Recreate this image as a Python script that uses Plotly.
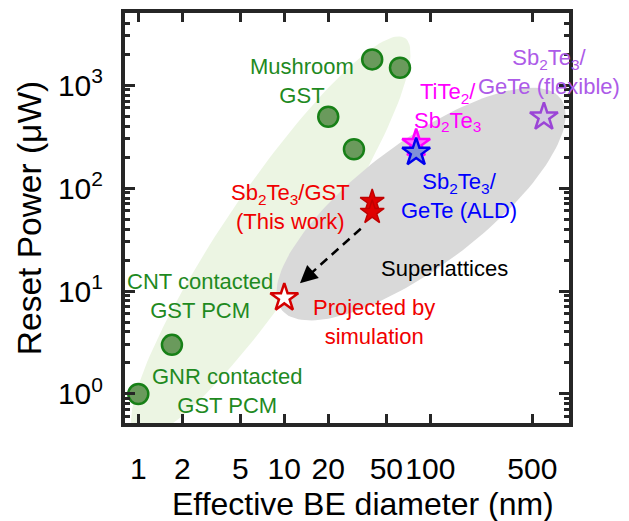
import numpy as np
import plotly.graph_objects as go

# ---------------- data ----------------
# GST cells (GNR contacted, CNT contacted, mushroom)
gst_bd = [1.0, 1.7, 20.0, 30.0, 40.0, 62.0]            # effective BE diameter (nm)
gst_power = [1.0, 3.0, 492.0, 238.0, 1776.0, 1472.0]    # reset power (uW)

# superlattice devices
this_work_bd = [40.0, 40.0]
this_work_power = [74.0, 58.0]

projected_bd = [10.0]
projected_power = [8.6]

tite2_bd = [80.0]
tite2_power = [271.0]

ald_bd = [80.0]
ald_power = [222.0]

flexible_bd = [600.0]
flexible_power = [490.0]

# scaling arrow: this work -> projected by simulation
arrow_from = (33.4, 40.2)
arrow_to = (12.8, 11.9)

x_tickvals = [1, 2, 5, 10, 20, 50, 100, 500]
x_ticktext = ["1", "2", "5", "10", "20", "50", "100", "500"]
y_tickvals = [1, 10, 100, 1000]
y_ticktext = ["10<sup>0</sup>", "10<sup>1</sup>", "10<sup>2</sup>", "10<sup>3</sup>"]
y_minor = [m * 10.0 ** e for e in range(-1, 4) for m in range(2, 10)]

# ---------------- layout constants ----------------
W, H = 629, 521
MARGIN = dict(l=125, r=60, t=13, b=98)
X_RANGE = [-0.091, 2.950]
Y_RANGE = [-0.282, 3.700]
PX_X = (W - MARGIN["l"] - MARGIN["r"]) / (X_RANGE[1] - X_RANGE[0])
PX_Y = (H - MARGIN["t"] - MARGIN["b"]) / (Y_RANGE[1] - Y_RANGE[0])

FONT = "Liberation Sans, Arial, sans-serif"
AXIS_COLOR = "#262626"
GREEN_TXT = "#1f8a1f"


def ellipse(cx, cy, a_px, b_px, angle_deg, n=160):
    """Rotated ellipse (sizes in screen pixels) returned in data units of the log axes."""
    t = np.linspace(0, 2 * np.pi, n)
    th = np.radians(angle_deg)
    du, dv = a_px * np.cos(t), b_px * np.sin(t)
    dx = du * np.cos(th) - dv * np.sin(th)
    dy = du * np.sin(th) + dv * np.cos(th)
    return 10 ** (np.log10(cx) + dx / PX_X), 10 ** (np.log10(cy) + dy / PX_Y)


fig = go.Figure()

# background regions: GST devices (green) and superlattices (grey)
gx, gy = ellipse(8.08, 33.4, 240, 47, 56)
fig.add_trace(go.Scatter(x=gx, y=gy, mode="lines", fill="toself",
                         fillcolor="rgb(236,245,227)", line=dict(width=0),
                         hoverinfo="skip"))
sx, sy = ellipse(86.4, 69.9, 175, 62, 37)
fig.add_trace(go.Scatter(x=sx, y=sy, mode="lines", fill="toself",
                         fillcolor="rgb(217,217,217)", line=dict(width=0),
                         hoverinfo="skip"))

# dashed scaling arrow
lx0, ly0 = np.log10(arrow_from)
lx1, ly1 = np.log10(arrow_to)
f = 0.15
tail = (lx1 + f * (lx0 - lx1), ly1 + f * (ly0 - ly1))
fig.add_trace(go.Scatter(x=[arrow_from[0], 10 ** tail[0]], y=[arrow_from[1], 10 ** tail[1]],
                         mode="lines", line=dict(color="black", width=2.5, dash="9px,6px"),
                         hoverinfo="skip"))
fig.add_annotation(x=lx1, y=ly1, ax=tail[0], ay=tail[1], xref="x", yref="y",
                   axref="x", ayref="y", text="", showarrow=True, arrowhead=2,
                   arrowsize=1.4, arrowwidth=2.5, arrowcolor="black", standoff=0)

# GST circles
fig.add_trace(go.Scatter(x=gst_bd, y=gst_power, mode="markers",
                         marker=dict(symbol="circle", size=20, color="#6a9a5c",
                                     line=dict(color="#178017", width=2.5))))

# stars
fig.add_trace(go.Scatter(x=this_work_bd, y=this_work_power, mode="markers",
                         marker=dict(symbol="star", size=18, color="#e00000",
                                     line=dict(color="#c00000", width=1.5))))
fig.add_trace(go.Scatter(x=projected_bd, y=projected_power, mode="markers",
                         marker=dict(symbol="star", size=21, color="white",
                                     line=dict(color="#d40000", width=2.5))))
fig.add_trace(go.Scatter(x=tite2_bd, y=tite2_power, mode="markers",
                         marker=dict(symbol="star", size=21, color="#ff70ff",
                                     line=dict(color="#ff00ff", width=2.5))))
fig.add_trace(go.Scatter(x=ald_bd, y=ald_power, mode="markers",
                         marker=dict(symbol="star", size=21, color="#8090d8",
                                     line=dict(color="#0000ee", width=2.5))))
fig.add_trace(go.Scatter(x=flexible_bd, y=flexible_power, mode="markers",
                         marker=dict(symbol="star", size=21, color="#d3cbe0",
                                     line=dict(color="#9b45d6", width=2.5))))

# text labels
labels = [
    ("Mushroom<br>GST", 13.2, 1094, GREEN_TXT),
    ("TiTe<sub>2</sub>/<br>Sb<sub>2</sub>Te<sub>3</sub>", 132, 611, "#ff00ff"),
    ("Sb<sub>2</sub>Te<sub>3</sub>/<br>GeTe (flexible)", 649, 1337, "#ad5be8"),
    ("Sb<sub>2</sub>Te<sub>3</sub>/<br>GeTe (ALD)", 157, 83.6, "#0000ff"),
    ("Sb<sub>2</sub>Te<sub>3</sub>/GST<br>(This work)", 11.1, 65.4, "#f00000"),
    ("Superlattices", 126, 16.7, "black"),
    ("CNT contacted<br>GST PCM", 2.65, 8.94, GREEN_TXT),
    ("Projected by<br>simulation", 41.1, 5.0, "#f00000"),
    ("GNR contacted<br>GST PCM", 4.05, 1.07, GREEN_TXT),
]
for text, x, y, color in labels:
    fig.add_annotation(x=np.log10(x), y=np.log10(y), xref="x", yref="y", text=text,
                       showarrow=False, xanchor="center", yanchor="middle",
                       align="center", font=dict(family=FONT, size=22, color=color))

# x-axis title, centred under the tick labels
fig.add_annotation(x=0.536, y=-0.197, xref="paper", yref="paper",
                   text="Effective BE diameter (nm)", showarrow=False,
                   xanchor="center", yanchor="middle",
                   font=dict(family=FONT, size=32, color="black"))

axis_common = dict(
    type="log", showgrid=False, zeroline=False, showline=True, linewidth=4,
    linecolor=AXIS_COLOR, mirror="allticks", ticks="inside", tickwidth=3,
    tickcolor=AXIS_COLOR, tickmode="array", automargin=False,
    tickfont=dict(family=FONT, size=30, color="black"),
)

fig.update_layout(
    width=W, height=H, margin=MARGIN,
    paper_bgcolor="white", plot_bgcolor="white", showlegend=False,
    font=dict(family=FONT, color="black"),
    xaxis=dict(**axis_common, range=X_RANGE, tickvals=x_tickvals, ticktext=x_ticktext,
               ticklen=9, ticklabelstandoff=16),
    yaxis=dict(**axis_common, range=Y_RANGE, tickvals=y_tickvals, ticktext=y_ticktext,
               ticklen=10, ticklabelstandoff=12,
               minor=dict(tickmode="array", tickvals=y_minor, ticks="inside",
                          ticklen=5, tickwidth=2.5, tickcolor=AXIS_COLOR),
               title=dict(text="Reset Power (μW)",
                          font=dict(family=FONT, size=33.5, color="black"), standoff=7)),
)

fig.write_html("out.html")
